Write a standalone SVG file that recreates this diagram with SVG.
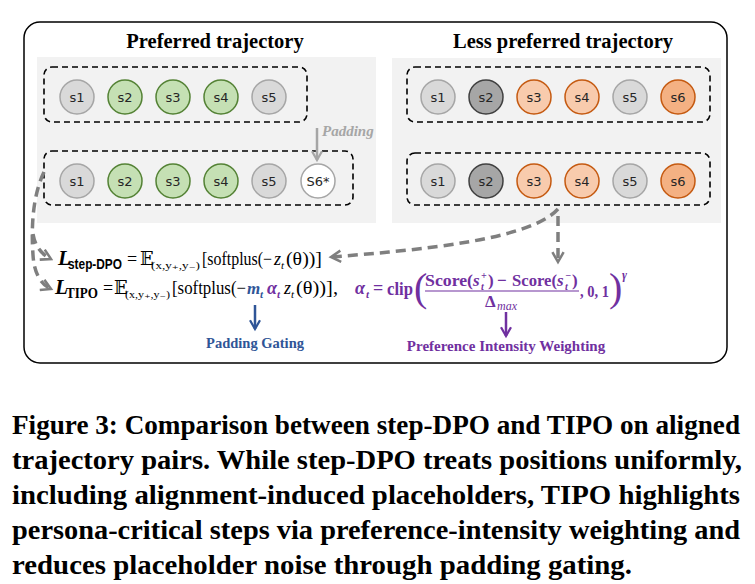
<svg xmlns="http://www.w3.org/2000/svg" width="755" height="584" viewBox="0 0 755 584">
<defs>
<style>
.panel{fill:#f2f2f2}
.dbox{fill:none;stroke:#000;stroke-width:1.6;stroke-dasharray:6 4}
.cg{fill:#d9d9d9;stroke:#a6a6a6;stroke-width:1.5}
.cgr{fill:#c5e0b4;stroke:#548235;stroke-width:1.5}
.cdk{fill:#a6a6a6;stroke:#404040;stroke-width:1.5}
.cor{fill:#f8cbad;stroke:#c55a11;stroke-width:1.5}
.cor2{fill:#f4b183;stroke:#c55a11;stroke-width:1.5}
.cw{fill:#fff;stroke:#a6a6a6;stroke-width:1.5}
.lb{font-family:"DejaVu Sans",sans-serif;font-size:13px;fill:#262626;text-anchor:middle}
.title{font-family:"Liberation Serif",serif;font-weight:bold;font-size:20.5px;text-anchor:middle;fill:#000}
.conn{fill:none;stroke:#7f7f7f;stroke-width:3.5;stroke-dasharray:10 6}
.m{font-family:"Liberation Serif","DejaVu Serif",serif;fill:#000}
.bi{font-weight:bold;font-style:italic}
.it{font-style:italic}
.pur{fill:#7030a0;font-weight:bold}
.blu{fill:#2f5597;font-weight:bold}
.cap{font-family:"Liberation Serif",serif;font-weight:bold;font-size:27px;fill:#000}
</style>
<marker id="ag" viewBox="0 0 10 10" refX="8" refY="5" markerWidth="4" markerHeight="4" orient="auto" markerUnits="strokeWidth">
<path d="M1 1 L8 5 L1 9" fill="none" stroke="#7f7f7f" stroke-width="1.8"/>
</marker>
<marker id="ap" viewBox="0 0 10 10" refX="8" refY="5" markerWidth="5" markerHeight="5" orient="auto" markerUnits="strokeWidth">
<path d="M1 1 L8 5 L1 9" fill="none" stroke="#a6a6a6" stroke-width="1.8"/>
</marker>
<marker id="ab" viewBox="0 0 10 10" refX="8" refY="5" markerWidth="5" markerHeight="5" orient="auto" markerUnits="strokeWidth">
<path d="M1 1 L8 5 L1 9" fill="none" stroke="#2f5597" stroke-width="1.8"/>
</marker>
<marker id="au" viewBox="0 0 10 10" refX="8" refY="5" markerWidth="5" markerHeight="5" orient="auto" markerUnits="strokeWidth">
<path d="M1 1 L8 5 L1 9" fill="none" stroke="#7030a0" stroke-width="1.8"/>
</marker>
</defs>
<rect width="755" height="584" fill="#fff"/>
<rect x="24" y="22" width="703" height="341" rx="16" fill="none" stroke="#000" stroke-width="1.5"/>

<g id="preferred">
<text class="title" x="215" y="48">Preferred trajectory</text>
<rect class="panel" x="37" y="57" width="339" height="166"/>
<g id="pref-row1">
<rect class="dbox" x="44" y="67" width="263" height="55" rx="8"/>
<circle class="cg" cx="77" cy="97" r="17"/><text class="lb" x="77" y="102">s1</text>
<circle class="cgr" cx="125" cy="97" r="17"/><text class="lb" x="125" y="102">s2</text>
<circle class="cgr" cx="173" cy="97" r="17"/><text class="lb" x="173" y="102">s3</text>
<circle class="cgr" cx="221" cy="97" r="17"/><text class="lb" x="221" y="102">s4</text>
<circle class="cg" cx="269" cy="97" r="17"/><text class="lb" x="269" y="102">s5</text>
</g>
<g id="pref-row2">
<rect class="dbox" x="44" y="151" width="309" height="54" rx="8"/>
<circle class="cg" cx="77" cy="181" r="17"/><text class="lb" x="77" y="186">s1</text>
<circle class="cgr" cx="125" cy="181" r="17"/><text class="lb" x="125" y="186">s2</text>
<circle class="cgr" cx="173" cy="181" r="17"/><text class="lb" x="173" y="186">s3</text>
<circle class="cgr" cx="221" cy="181" r="17"/><text class="lb" x="221" y="186">s4</text>
<circle class="cg" cx="269" cy="181" r="17"/><text class="lb" x="269" y="186">s5</text>
<circle class="cw" cx="318" cy="181" r="17"/><text class="lb" x="318" y="186">S6*</text>
</g>
<g id="padding">
<line x1="317" y1="128" x2="317" y2="160" stroke="#a6a6a6" stroke-width="2.5" marker-end="url(#ap)"/>
<text x="322" y="136" font-family="Liberation Serif,serif" font-weight="bold" font-style="italic" font-size="15" fill="#a6a6a6">Padding</text>
</g>
</g>

<g id="less-preferred">
<text class="title" x="563" y="48">Less preferred trajectory</text>
<rect class="panel" x="392" y="58" width="329" height="165"/>
<g id="less-row1">
<rect class="dbox" x="407" y="67" width="303" height="55" rx="8"/>
<circle class="cg" cx="438" cy="97" r="17"/><text class="lb" x="438" y="102">s1</text>
<circle class="cdk" cx="486" cy="97" r="17"/><text class="lb" x="486" y="102">s2</text>
<circle class="cor" cx="534" cy="97" r="17"/><text class="lb" x="534" y="102">s3</text>
<circle class="cor" cx="582" cy="97" r="17"/><text class="lb" x="582" y="102">s4</text>
<circle class="cg" cx="630" cy="97" r="17"/><text class="lb" x="630" y="102">s5</text>
<circle class="cor2" cx="678" cy="97" r="17"/><text class="lb" x="678" y="102">s6</text>
</g>
<g id="less-row2">
<rect class="dbox" x="407" y="153" width="303" height="52" rx="8"/>
<circle class="cg" cx="438" cy="181" r="17"/><text class="lb" x="438" y="186">s1</text>
<circle class="cdk" cx="486" cy="181" r="17"/><text class="lb" x="486" y="186">s2</text>
<circle class="cor" cx="534" cy="181" r="17"/><text class="lb" x="534" y="186">s3</text>
<circle class="cor" cx="582" cy="181" r="17"/><text class="lb" x="582" y="186">s4</text>
<circle class="cg" cx="630" cy="181" r="17"/><text class="lb" x="630" y="186">s5</text>
<circle class="cor2" cx="678" cy="181" r="17"/><text class="lb" x="678" y="186">s6</text>
</g>
</g>

<g id="connectors">
<path class="conn" d="M44 172 C33 195 31 225 33 255 C34 272 40 284 51 289" marker-end="url(#ag)"/>
<path class="conn" d="M33 234 C35 246 41 254 51 259" marker-end="url(#ag)"/>
<path class="conn" d="M558 209 C530 240 420 250 331 257" marker-end="url(#ag)"/>
<path class="conn" d="M558 216 L558 262" marker-end="url(#ag)"/>
<line x1="255" y1="305" x2="255" y2="329" stroke="#2f5597" stroke-width="2.5" marker-end="url(#ab)"/>
<line x1="506" y1="312" x2="506" y2="336" stroke="#7030a0" stroke-width="2.5" marker-end="url(#au)"/>
</g>

<g id="formula-step-dpo" class="m">
<text x="58" y="265" class="bi" font-size="21">L</text>
<text x="68" y="269" font-family="Liberation Sans,sans-serif" font-weight="bold" font-size="14" textLength="54" lengthAdjust="spacingAndGlyphs">step-DPO</text>
<text x="127" y="265" font-size="18">=</text>
<text x="140" y="265" font-size="18">𝔼</text>
<text x="151" y="269" font-size="11" textLength="49" lengthAdjust="spacingAndGlyphs">(x,y₊,y₋)</text>
<text x="202" y="265" font-size="18" textLength="70" lengthAdjust="spacingAndGlyphs">[softplus(−</text>
<text x="274" y="265" font-size="18" class="it">z</text>
<text x="281" y="269" font-size="11" class="it">t</text>
<text x="286" y="265" font-size="18" textLength="36" lengthAdjust="spacingAndGlyphs">(θ))]</text>
</g>

<g id="formula-tipo" class="m">
<text x="55" y="294" class="bi" font-size="21">L</text>
<text x="66" y="298" font-weight="bold" font-size="15" textLength="32" lengthAdjust="spacingAndGlyphs">TIPO</text>
<text x="103" y="294" font-size="18">=</text>
<text x="114" y="294" font-size="18">𝔼</text>
<text x="125" y="298" font-size="11" textLength="45" lengthAdjust="spacingAndGlyphs">(x,y₊,y₋)</text>
<text x="172" y="294" font-size="18" textLength="74" lengthAdjust="spacingAndGlyphs">[softplus(−</text>
<text x="247" y="294" font-size="17" class="blu it">m</text>
<text x="260" y="298" font-size="11" class="blu it">t</text>
<text x="267" y="294" font-size="18" class="pur it">α</text>
<text x="277" y="298" font-size="11" class="pur it">t</text>
<text x="284" y="294" font-size="18" class="it">z</text>
<text x="291" y="298" font-size="11" class="it">t</text>
<text x="296" y="294" font-size="18" textLength="42" lengthAdjust="spacingAndGlyphs">(θ))],</text>
</g>

<g id="formula-alpha" class="m">
<text x="355" y="294" font-size="18" class="pur it">α</text>
<text x="366" y="298" font-size="11" class="pur it">t</text>
<text x="373" y="294" font-size="18" class="pur">=</text>
<text x="387" y="295" font-size="18" class="pur" textLength="26" lengthAdjust="spacingAndGlyphs">clip</text>
<text x="414" y="301" style="font-size:40px" fill="#7030a0">(</text>
<text x="425" y="286" font-size="17" class="pur" textLength="48" lengthAdjust="spacingAndGlyphs">Score(</text>
<text x="473" y="286" font-size="17" class="pur it">s</text>
<text x="481" y="279" font-size="10" class="pur it">+</text>
<text x="481" y="290" font-size="10" class="pur it">t</text>
<text x="488" y="286" font-size="17" class="pur">)</text>
<text x="497" y="286" font-size="17" class="pur">−</text>
<text x="512" y="286" font-size="17" class="pur" textLength="45" lengthAdjust="spacingAndGlyphs">Score(</text>
<text x="557" y="286" font-size="17" class="pur it">s</text>
<text x="565" y="279" font-size="10" class="pur it">−</text>
<text x="565" y="290" font-size="10" class="pur it">t</text>
<text x="572" y="286" font-size="17" class="pur">)</text>
<line x1="425" y1="291" x2="579" y2="291" stroke="#7030a0" stroke-width="1.2"/>
<text x="485" y="307" font-size="17" class="pur">Δ</text>
<text x="497" y="310" font-size="12" class="it" fill="#7030a0">max</text>
<text x="580" y="297" font-size="17" class="pur" textLength="29" lengthAdjust="spacingAndGlyphs">, 0, 1</text>
<text x="609" y="301" style="font-size:40px" fill="#7030a0">)</text>
<text x="622" y="279" font-size="12" class="pur it">γ</text>
</g>

<g id="labels">
<text x="255" y="348" text-anchor="middle" font-family="Liberation Serif,serif" font-weight="bold" font-size="14.5" fill="#2f5597">Padding Gating</text>
<text x="506" y="351" text-anchor="middle" font-family="Liberation Serif,serif" font-weight="bold" font-size="15" fill="#7030a0">Preference Intensity Weighting</text>
</g>

<g id="caption">
<text class="cap" x="12" y="434" textLength="728" lengthAdjust="spacingAndGlyphs">Figure 3: Comparison between step-DPO and TIPO on aligned</text>
<text class="cap" x="12" y="469" textLength="730" lengthAdjust="spacingAndGlyphs">trajectory pairs. While step-DPO treats positions uniformly,</text>
<text class="cap" x="12" y="504" textLength="728" lengthAdjust="spacingAndGlyphs">including alignment-induced placeholders, TIPO highlights</text>
<text class="cap" x="12" y="539" textLength="728" lengthAdjust="spacingAndGlyphs">persona-critical steps via preference-intensity weighting and</text>
<text class="cap" x="12" y="574" textLength="620" lengthAdjust="spacingAndGlyphs">reduces placeholder noise through padding gating.</text>
</g>
</svg>
